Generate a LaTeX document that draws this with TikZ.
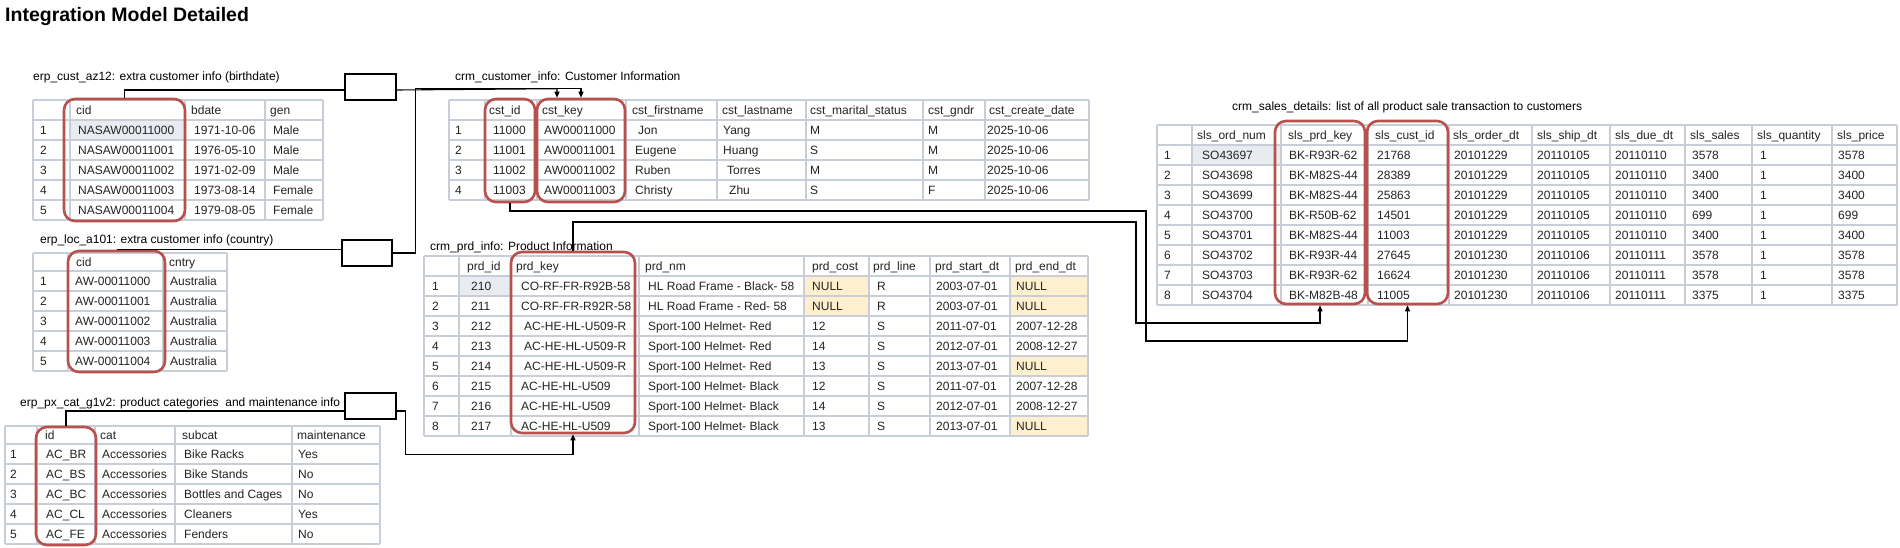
\documentclass[tikz,border=0pt]{standalone}
\usepackage{fontspec}
\setmainfont{Liberation Sans}
\usetikzlibrary{arrows.meta,fit,calc}
\definecolor{gridc}{RGB}{200,206,216}
\definecolor{redc}{RGB}{184,80,76}
\definecolor{selfill}{RGB}{232,236,241}
\definecolor{selline}{RGB}{165,171,181}
\definecolor{nullfill}{RGB}{254,239,206}
\definecolor{txt}{RGB}{35,35,35}
\begin{document}
\begin{tikzpicture}[x=1pt,y=-1pt,
  cell/.style={anchor=base west,inner sep=0pt,font=\fontsize{12}{14}\selectfont,text=txt},
  lbl/.style={anchor=base west,inner sep=0pt,font=\fontsize{12}{14}\selectfont},
  gridline/.style={draw=gridc,line width=1.5pt},
  selbox/.style={fill=selfill,draw=selline,line width=0.8pt},
  redbox/.style={draw=redc,line width=2.6pt,rounded corners=11pt,inner sep=0pt},
  linkbox/.style={draw=black,line width=1.1pt,fill=white,inner sep=0pt},
  conn/.style={draw=black,line width=1.1pt},
  tipd/.style={-{Triangle[length=6pt,width=5pt]}}]
\fill[white] (0,0) rectangle (1900,548);
\useasboundingbox (0,0) rectangle (1900,548);

\node[anchor=base west,inner sep=0pt,font=\bfseries\fontsize{19.5}{22}\selectfont] (title) at (5,22) {Integration Model Detailed};

% labels
\node[lbl] (lt1) at (33,80.5) {erp\_cust\_az12: extra customer info (birthdate)};
\node[lbl] (lt2) at (40,243) {erp\_loc\_a101: extra customer info (country)};
\node[lbl] (lt3) at (20,406) {erp\_px\_cat\_g1v2: product categories\ \ and maintenance info};
\node[lbl] (lt4) at (455,80.5) {crm\_customer\_info: Customer Information};
\node[lbl] (lt5) at (430,251) {crm\_prd\_info: Product Information};
\node[lbl] (lt6) at (1232,111) {crm\_sales\_details: list of all product sale transaction to customers};

% ---------- T1 erp_cust_az12
\draw[selbox] (70,120) rectangle (185,140);
\foreach \x in {33,70,185,265,323} \draw[gridline] (\x,100) -- (\x,220);
\foreach \y in {100,120,...,220} \draw[gridline] (33,\y) -- (323,\y);
\foreach \n/\x/\t in {a/76/cid,b/191/bdate,c/270/gen} \node[cell] (t1h\n) at (\x,114.3) {\t};
\foreach \r/\a/\b/\c [evaluate=\r as \yy using 114.3+20*\r] in {1/NASAW00011000/1971-10-06/Male, 2/NASAW00011001/1976-05-10/Male, 3/NASAW00011002/1971-02-09/Male, 4/NASAW00011003/1973-08-14/Female, 5/NASAW00011004/1979-08-05/Female}{
  \node[cell] (t1-\r-n) at (40,\yy) {\r};
  \node[cell] (t1-\r-a) at (78,\yy) {\a};
  \node[cell] (t1-\r-b) at (194,\yy) {\b};
  \node[cell] (t1-\r-c) at (273,\yy) {\c};
}

% ---------- T2 erp_loc_a101
\foreach \x in {33,68,163,227} \draw[gridline] (\x,253) -- (\x,371);
\foreach \y in {253,271,291,311,331,351,371} \draw[gridline] (33,\y) -- (227,\y);
\foreach \n/\x/\t in {a/76/cid,b/169/cntry} \node[cell] (t2h\n) at (\x,266.5) {\t};
\foreach \r/\a/\b [evaluate=\r as \yy using 265.3+20*\r] in {1/AW-00011000/Australia, 2/AW-00011001/Australia, 3/AW-00011002/Australia, 4/AW-00011003/Australia, 5/AW-00011004/Australia}{
  \node[cell] (t2-\r-n) at (40,\yy) {\r};
  \node[cell] (t2-\r-a) at (75,\yy) {\a};
  \node[cell] (t2-\r-b) at (170,\yy) {\b};
}

% ---------- T3 erp_px_cat_g1v2
\foreach \x in {5,37,95,175,292,380} \draw[gridline] (\x,426) -- (\x,544);
\foreach \y in {426,444,464,484,504,524,544} \draw[gridline] (5,\y) -- (380,\y);
\foreach \n/\x/\t in {a/45/id,b/100/cat,c/182/subcat,d/297/maintenance} \node[cell] (t3h\n) at (\x,439.3) {\t};
\foreach \r/\a/\b/\c/\d [evaluate=\r as \yy using 438.3+20*\r] in {1/AC\_BR/Accessories/Bike Racks/Yes, 2/AC\_BS/Accessories/Bike Stands/No, 3/AC\_BC/Accessories/Bottles and Cages/No, 4/AC\_CL/Accessories/Cleaners/Yes, 5/AC\_FE/Accessories/Fenders/No}{
  \node[cell] (t3-\r-n) at (10,\yy) {\r};
  \node[cell] (t3-\r-a) at (46,\yy) {\a};
  \node[cell] (t3-\r-b) at (102,\yy) {\b};
  \node[cell] (t3-\r-c) at (184,\yy) {\c};
  \node[cell] (t3-\r-d) at (298,\yy) {\d};
}

% ---------- T4 crm_customer_info
\foreach \x in {449,485,537,626,717,806,923,985,1089} \draw[gridline] (\x,100) -- (\x,200);
\foreach \y in {100,120,...,200} \draw[gridline] (449,\y) -- (1089,\y);
\foreach \n/\x/\t in {a/489/cst\_id,b/542/cst\_key,c/632/cst\_firstname,d/722/cst\_lastname,e/810/cst\_marital\_status,f/928/cst\_gndr,g/989/cst\_create\_date} \node[cell] (t4h\n) at (\x,114.3) {\t};
\foreach \r/\a/\b/\c/\cx/\d/\dx/\e/\f [evaluate=\r as \yy using 114.3+20*\r] in {1/11000/AW00011000/Jon/638/Yang/723/M/M, 2/11001/AW00011001/Eugene/635/Huang/723/S/M, 3/11002/AW00011002/Ruben/635/Torres/727/M/M, 4/11003/AW00011003/Christy/635/Zhu/729/S/F}{
  \node[cell] (t4-\r-n) at (455,\yy) {\r};
  \node[cell] (t4-\r-a) at (493,\yy) {\a};
  \node[cell] (t4-\r-b) at (544,\yy) {\b};
  \node[cell] (t4-\r-c) at (\cx,\yy) {\c};
  \node[cell] (t4-\r-d) at (\dx,\yy) {\d};
  \node[cell] (t4-\r-e) at (810,\yy) {\e};
  \node[cell] (t4-\r-f) at (928,\yy) {\f};
  \node[cell] (t4-\r-g) at (987,\yy) {2025-10-06};
}

% ---------- T5 crm_prd_info
\draw[selbox] (459,276) rectangle (511,296);
\foreach \y in {276,296} \fill[nullfill] (804,\y) rectangle (869,\y+20);
\foreach \y in {276,296,356,416} \fill[nullfill] (1010,\y) rectangle (1088,\y+20);
\foreach \x in {424,459,511,639,804,869,930,1010,1088} \draw[gridline] (\x,256) -- (\x,436);
\foreach \y in {256,276,...,436} \draw[gridline] (424,\y) -- (1088,\y);
\foreach \n/\x/\t in {a/467/prd\_id,b/516/prd\_key,c/645/prd\_nm,d/812/prd\_cost,e/873/prd\_line,f/935/prd\_start\_dt,g/1015/prd\_end\_dt} \node[cell] (t5h\n) at (\x,270.3) {\t};
\foreach \r/\a/\b/\bx/\c/\d/\e/\f/\g [evaluate=\r as \yy using 270.3+20*\r] in {
  1/210/CO-RF-FR-R92B-58/521/HL Road Frame - Black- 58/NULL/R/2003-07-01/NULL,
  2/211/CO-RF-FR-R92R-58/521/HL Road Frame - Red- 58/NULL/R/2003-07-01/NULL,
  3/212/AC-HE-HL-U509-R/524/Sport-100 Helmet- Red/12/S/2011-07-01/2007-12-28,
  4/213/AC-HE-HL-U509-R/524/Sport-100 Helmet- Red/14/S/2012-07-01/2008-12-27,
  5/214/AC-HE-HL-U509-R/524/Sport-100 Helmet- Red/13/S/2013-07-01/NULL,
  6/215/AC-HE-HL-U509/521/Sport-100 Helmet- Black/12/S/2011-07-01/2007-12-28,
  7/216/AC-HE-HL-U509/521/Sport-100 Helmet- Black/14/S/2012-07-01/2008-12-27,
  8/217/AC-HE-HL-U509/521/Sport-100 Helmet- Black/13/S/2013-07-01/NULL}{
  \node[cell] (t5-\r-n) at (432,\yy) {\r};
  \node[cell] (t5-\r-a) at (471,\yy) {\a};
  \node[cell] (t5-\r-b) at (\bx,\yy) {\b};
  \node[cell] (t5-\r-c) at (648,\yy) {\c};
  \node[cell] (t5-\r-d) at (812,\yy) {\d};
  \node[cell] (t5-\r-e) at (877,\yy) {\e};
  \node[cell] (t5-\r-f) at (936,\yy) {\f};
  \node[cell] (t5-\r-g) at (1016,\yy) {\g};
}

% ---------- T6 crm_sales_details
\draw[selbox] (1192,145) rectangle (1281,165);
\foreach \x in {1157,1192,1281,1368,1449,1532,1610,1685,1752,1832,1897} \draw[gridline] (\x,125) -- (\x,305);
\foreach \y in {125,145,...,305} \draw[gridline] (1157,\y) -- (1897,\y);
\foreach \n/\x/\t in {a/1197/sls\_ord\_num,b/1288/sls\_prd\_key,c/1375/sls\_cust\_id,d/1453/sls\_order\_dt,e/1537/sls\_ship\_dt,f/1615/sls\_due\_dt,g/1690/sls\_sales,h/1757/sls\_quantity,i/1837/sls\_price} \node[cell] (t6h\n) at (\x,139.3) {\t};
\foreach \r/\a/\b/\c/\d/\e/\f/\g/\h/\i [evaluate=\r as \yy using 139.3+20*\r] in {
  1/SO43697/BK-R93R-62/21768/20101229/20110105/20110110/3578/1/3578,
  2/SO43698/BK-M82S-44/28389/20101229/20110105/20110110/3400/1/3400,
  3/SO43699/BK-M82S-44/25863/20101229/20110105/20110110/3400/1/3400,
  4/SO43700/BK-R50B-62/14501/20101229/20110105/20110110/699/1/699,
  5/SO43701/BK-M82S-44/11003/20101229/20110105/20110110/3400/1/3400,
  6/SO43702/BK-R93R-44/27645/20101230/20110106/20110111/3578/1/3578,
  7/SO43703/BK-R93R-62/16624/20101230/20110106/20110111/3578/1/3578,
  8/SO43704/BK-M82B-48/11005/20101230/20110106/20110111/3375/1/3375}{
  \node[cell] (t6-\r-n) at (1164,\yy) {\r};
  \node[cell] (t6-\r-a) at (1202,\yy) {\a};
  \node[cell] (t6-\r-b) at (1289,\yy) {\b};
  \node[cell] (t6-\r-c) at (1377,\yy) {\c};
  \node[cell] (t6-\r-d) at (1454,\yy) {\d};
  \node[cell] (t6-\r-e) at (1537,\yy) {\e};
  \node[cell] (t6-\r-f) at (1615,\yy) {\f};
  \node[cell] (t6-\r-g) at (1692,\yy) {\g};
  \node[cell] (t6-\r-h) at (1760,\yy) {\h};
  \node[cell] (t6-\r-i) at (1838,\yy) {\i};
}

% ---------- key highlight boxes
\node[redbox,fit={(64,99) (185,221)}] (rk1) {};
\node[redbox,fit={(68,251) (165,372)}] (rl1) {};
\node[redbox,fit={(36,427) (96,545)}] (rp1) {};
\node[redbox,fit={(485,99) (535,202)}] (rc1) {};
\node[redbox,fit={(537,99) (625,202)}] (rc2) {};
\node[redbox,fit={(511,252) (635,433)}] (rd1) {};
\node[redbox,fit={(1275,121) (1365,304)}] (rs1) {};
\node[redbox,fit={(1367,121) (1448,304)}] (rs2) {};

% ---------- link boxes
\node[linkbox,fit={(345,74) (396,100)}] (bx1) {};
\node[linkbox,fit={(342,240) (392,266)}] (bx2) {};
\node[linkbox,fit={(345,393) (396,419)}] (bx3) {};

% ---------- connectors
\draw[conn] (rk1.north) |- ([yshift=-3pt]bx1.west);
\draw[conn,tipd] ([yshift=-3pt]bx1.east) -- ([xshift=-24pt,yshift=9pt]rc2.north) -- ([xshift=-24pt]rc2.north);
\draw[conn] (rl1.north) -- (rl1.north -| bx2.west);
\draw[conn,tipd] (bx2.east) -- ++(23,0) |- ([yshift=9pt]rc2.north) -- (rc2.north);
\draw[conn] (rp1.north) |- ([yshift=-5pt]bx3.west);
\draw[conn,tipd] ([yshift=-5pt]bx3.east) -- ++(9,0) |- ([yshift=-20pt]rd1.south) -- (rd1.south);
\coordinate (c4a) at (1136,222);
\coordinate (c4b) at (1136,323);
\draw[conn,tipd] (rd1.north) |- (c4a) -- (c4b) -| (rs1.south);
\coordinate (c5a) at (1146,211);
\coordinate (c5b) at (1146,341);
\draw[conn,tipd] (rc1.south) |- (c5a) -- (c5b) -| (rs2.south);
\end{tikzpicture}
\end{document}
